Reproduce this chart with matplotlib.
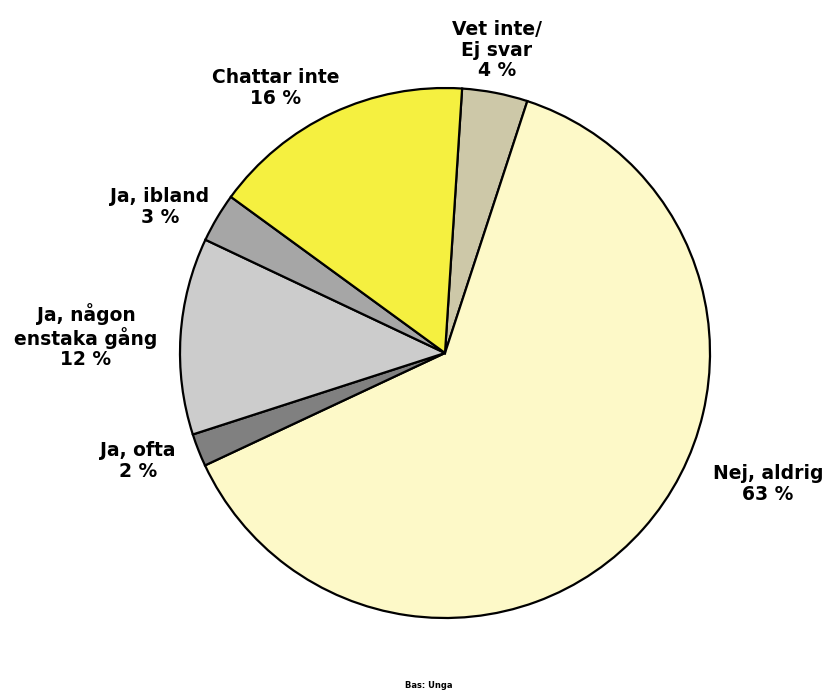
import matplotlib.pyplot as plt

# slices in clockwise order, starting at the top
labels = ["Vet inte/\nEj svar", "Nej, aldrig", "Ja, ofta",
          "Ja, någon\nenstaka gång", "Ja, ibland", "Chattar inte"]
values = [4, 63, 2, 12, 3, 16]
colors = ["#CDC8A8", "#FDF9C8", "#808080", "#CCCCCC", "#A6A6A6", "#F5F040"]

# label anchor points (pixels from top-left)
label_pos = [(497, 50), (768, 484), (138, 461), (86, 336), (160, 207), (276, 88)]

W, H = 825, 693
fig = plt.figure(figsize=(W / 100, H / 100), dpi=100)
ax = fig.add_axes([0, 0, 1, 1])
ax.set_xlim(0, W)
ax.set_ylim(0, H)
ax.set_aspect("equal")
ax.axis("off")

ax.pie(values, colors=colors, startangle=86.3, counterclock=False,
       center=(445, H - 353), radius=265,
       wedgeprops=dict(edgecolor="black", linewidth=1.6))
ax.set_xlim(0, W)
ax.set_ylim(0, H)

for lab, v, (x, y) in zip(labels, values, label_pos):
    ax.text(x, H - y, f"{lab}\n{v} %", ha="center", va="center",
            fontsize=13.5, fontweight="bold", family="DejaVu Sans",
            linespacing=1.1)

ax.text(429, H - 686, "Bas: Unga", ha="center", va="center",
        fontsize=6, fontweight="bold", family="DejaVu Sans")

fig.savefig("out.png", dpi=100)
